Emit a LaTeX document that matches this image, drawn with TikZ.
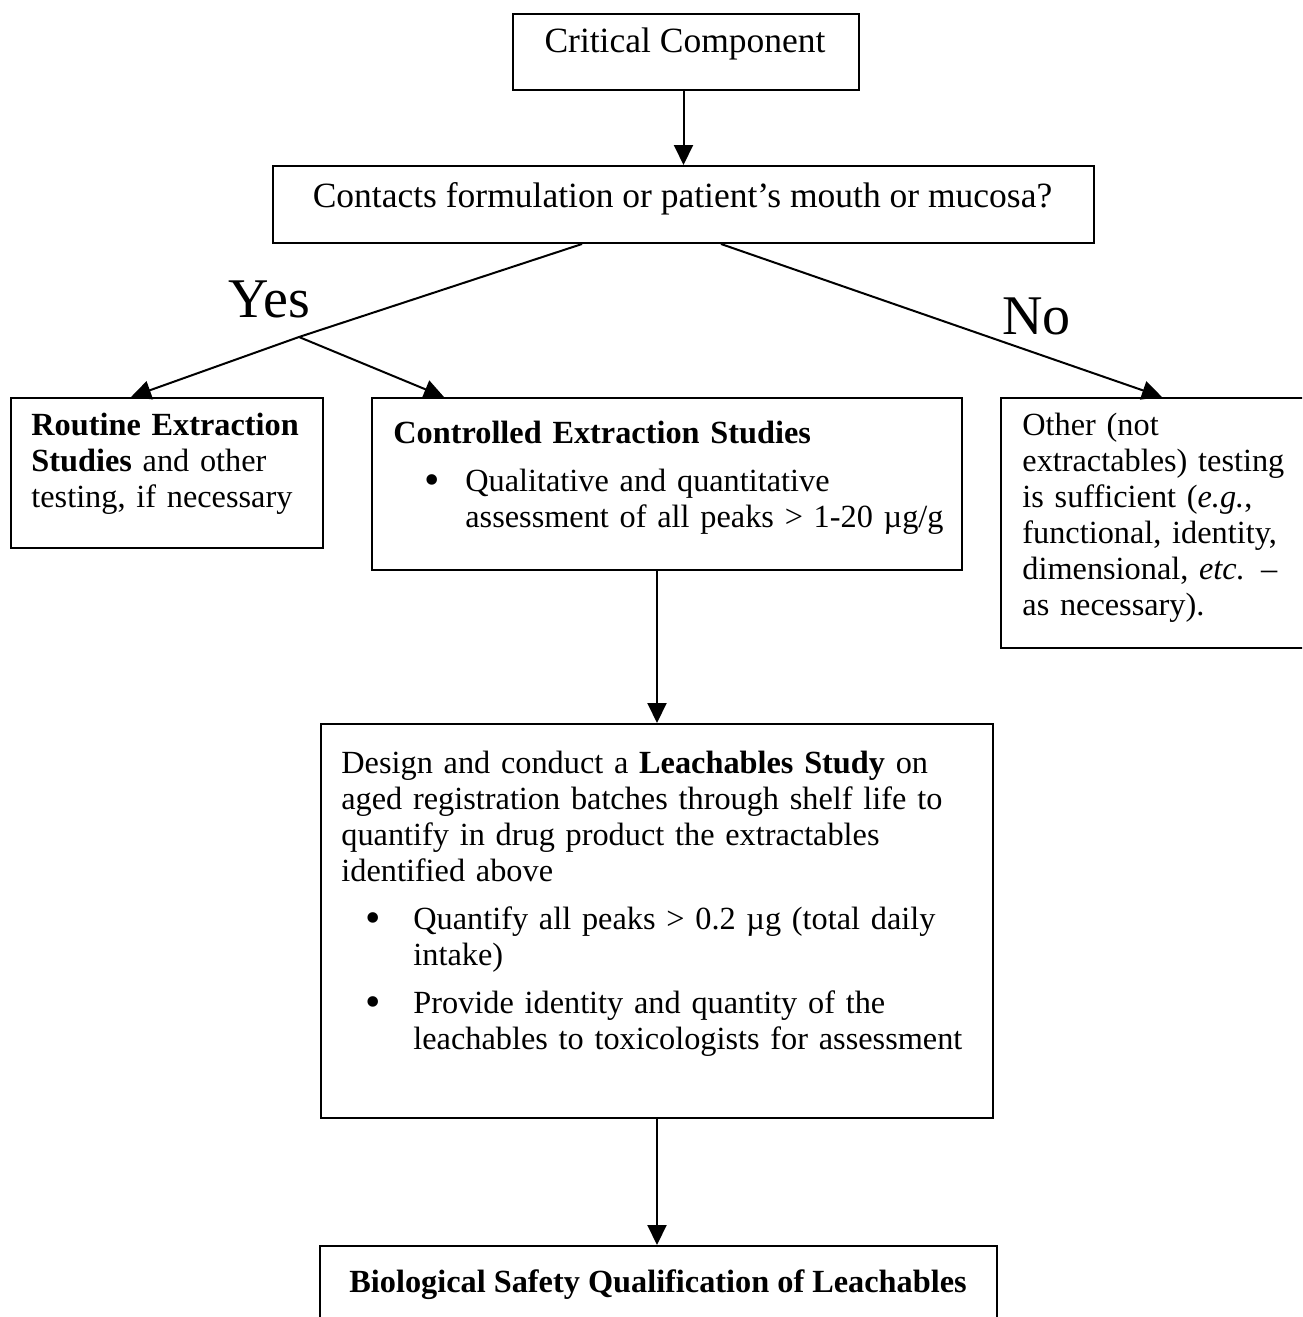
\documentclass[tikz,border=0pt]{standalone}
\usepackage{fontspec}
\setmainfont{Liberation Serif}
\usetikzlibrary{positioning, arrows.meta}

\tikzset{
  box/.style={draw, line width=1pt, anchor=north west, inner sep=0pt},
  txt/.style={inner sep=0pt, align=left, anchor=base west, font=\fontsize{16.15}{18}\selectfont},
  headtxt/.style={inner sep=0pt, anchor=base, font=\fontsize{17.75}{20}\selectfont},
  answer/.style={inner sep=0pt, anchor=base west, font=\fontsize{28}{32}\selectfont},
  arr/.style={-{Triangle[length=10pt,width=9.5pt]}, line width=1pt}
}
% bullet at a given indent, text at 36pt
\newcommand{\bul}[1]{\hspace*{#1}\makebox[\dimexpr36pt-#1\relax][l]{\raisebox{-1.5pt}{\fontsize{22}{18}\selectfont\textbullet}}}
\newcommand{\ind}{\hspace*{36pt}}

\begin{document}
\begin{tikzpicture}[x=0.5pt, y=-0.5pt]
  \useasboundingbox (0,0) rectangle (1302,1317);
  \clip (0,0) rectangle (1302,1317);

  % Boxes
  \node[box, minimum width=173pt, minimum height=38pt] (crit) at (512,13) {};
  \node[box, minimum width=410.5pt, minimum height=38.5pt] (contacts) at (272,165) {};
  \node[box, minimum width=156pt, minimum height=75pt] (routine) at (10,397) {};
  \node[box, minimum width=295pt, minimum height=86pt] (controlled) at (371,397) {};
  \node[box, minimum width=200pt, minimum height=125pt] (other) at (1000,397) {};
  \node[box, minimum width=336pt, minimum height=197pt] (leach) at (320,723) {};
  \node[box, minimum width=338.5pt, minimum height=60pt] (bio) at (319,1245) {};

  % Texts
  \node[headtxt] (crittxt) at (685,53) {Critical Component};
  \node[headtxt] (contactstxt) at (682.5,207) {Contacts formulation or patient’s mouth or mucosa?};
  \node[txt, text width=150pt] (routinetxt) at (31,435)
    {\textbf{Routine Extraction}\\ \textbf{Studies} and other\\ testing, if necessary};
  \node[txt, text width=280pt] (controlledtxt) at (393,443)
    {\textbf{Controlled Extraction Studies}\\[6pt]
     \bul{15.5pt}Qualitative and quantitative\\
     \ind assessment of all peaks > 1-20 µg/g};
  \node[txt, text width=150pt] (othertxt) at (1022,435)
    {Other (not\\ extractables) testing\\ is sufficient (\emph{e.g.},\\
     functional, identity,\\ dimensional, \emph{etc.} –\\ as necessary).};
  \node[txt, text width=320pt] (leachtxt) at (341,773)
    {Design and conduct a \textbf{Leachables Study} on\\
     aged registration batches through shelf life to\\
     quantify in drug product the extractables\\
     identified above\\[6pt]
     \bul{12pt}Quantify all peaks > 0.2 µg (total daily\\
     \ind intake)\\[6pt]
     \bul{12pt}Provide identity and quantity of the\\
     \ind leachables to toxicologists for assessment};
  \node[headtxt, font=\fontsize{16.15}{18}\selectfont\bfseries] (biotxt) at (658,1292)
    {Biological Safety Qualification of Leachables};

  % Yes / No
  \node[answer] (yes) at (228,317) {Yes};
  \node[answer] (no) at (1002,334) {No};
  \coordinate (fork) at (299,337);

  % Connectors
  \draw[arr] (contacts.north |- crit.south) -- (contacts.north);
  \draw[arr] ([xshift=-50.75pt]contacts.south) -- (fork) -- ([xshift=-18pt]routine.north);
  \draw[arr] (fork) -- ([xshift=-111.5pt]controlled.north);
  \draw[arr] ([xshift=18.75pt]contacts.south) -- ([xshift=81pt]other.north west);
  \draw[arr] (leach.north |- controlled.south) -- (leach.north);
  \draw[arr] (leach.south) -- (leach.south |- bio.north);
\end{tikzpicture}
\end{document}
